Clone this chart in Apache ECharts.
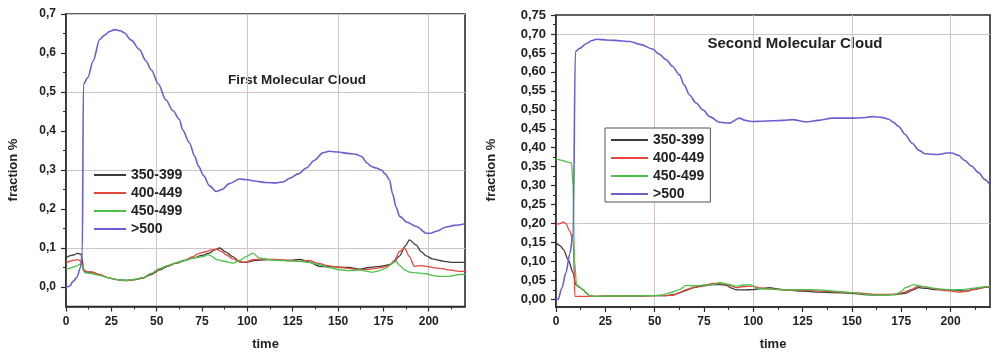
<!DOCTYPE html>
<html><head><meta charset="utf-8">
<script src="https://cdn.jsdelivr.net/npm/echarts@6/dist/echarts.min.js"></script>
<style>html,body{margin:0;padding:0;background:#fff}#c{width:991px;height:357px}</style>
</head><body><div id="c"></div>
<script>
const seriesNames = ['350-399', '400-449', '450-499', '>500'];
const seriesColors = ['#3c3c3c', '#e5463e', '#4cc24c', '#6b60d0'];
const chartTitles = ['First Molecular Cloud', 'Second Molecular Cloud'];
const xTickLabels = [0, 25, 50, 75, 100, 125, 150, 175, 200];
const xMinorTicks = [12.5, 37.5, 62.5, 87.5, 112.5, 137.5, 162.5, 187.5, 212.5];
const c1YTickLabels = [0, 0.1, 0.2, 0.3, 0.4, 0.5, 0.6, 0.7];
const c1YMinorTicks = [0.05, 0.15, 0.25, 0.35, 0.45, 0.55, 0.65];
const c2YTickLabels = [0, 0.05, 0.1, 0.15, 0.2, 0.25, 0.3, 0.35, 0.4, 0.45, 0.5, 0.55, 0.6, 0.65, 0.7, 0.75];
const c2YMinorTicks = [0.025, 0.075, 0.125, 0.175, 0.225, 0.275, 0.325, 0.375, 0.425, 0.475, 0.525, 0.575, 0.625, 0.675, 0.725];

// First Molecular Cloud: [time, fraction]
const c1_350 = [[0,0.075],[2,0.08],[4,0.082],[6.5,0.086],[8.3,0.084],[9,0.07],[9.6,0.044],[11,0.038],[14.6,0.038],[18,0.032],[24,0.023],[28,0.019],[33,0.017],[38,0.019],[42.4,0.023],[47,0.032],[51.6,0.044],[56,0.053],[60.8,0.061],[65,0.067],[70,0.074],[75,0.081],[79,0.087],[82,0.095],[84.7,0.1],[88,0.09],[92,0.078],[95.7,0.065],[99.4,0.063],[103,0.067],[106.7,0.069],[112,0.07],[117.8,0.069],[123,0.068],[128.8,0.071],[134,0.064],[139.8,0.053],[145,0.052],[150.9,0.051],[156,0.05],[161.9,0.046],[167,0.05],[172.9,0.053],[178.4,0.057],[181,0.065],[183.9,0.08],[187,0.105],[189.4,0.121],[193,0.108],[196,0.09],[198.6,0.08],[202,0.072],[206,0.068],[210,0.065],[213.3,0.063],[220,0.063]];
const c1_400 = [[0,0.061],[2,0.066],[3.7,0.068],[6.5,0.07],[8.3,0.066],[9,0.06],[9.6,0.045],[11,0.04],[14.6,0.038],[18,0.032],[24,0.023],[28,0.019],[33,0.016],[38,0.019],[42.4,0.024],[47,0.034],[51.6,0.046],[56,0.054],[60.8,0.062],[65,0.068],[70,0.078],[73.7,0.087],[77.4,0.091],[80,0.095],[83,0.097],[86,0.09],[88.6,0.082],[92,0.072],[96,0.064],[99.4,0.064],[103,0.07],[108,0.072],[113,0.071],[118,0.07],[124,0.068],[129,0.066],[134,0.068],[139.8,0.06],[145,0.054],[150.9,0.05],[156,0.048],[161.9,0.044],[167,0.045],[172.9,0.049],[178.4,0.055],[181,0.068],[183.9,0.091],[186.6,0.1],[189.4,0.078],[192,0.053],[196,0.055],[200,0.052],[203.5,0.049],[208,0.047],[211,0.044],[217,0.04],[220,0.04]];
const c1_450 = [[0,0.046],[2,0.048],[3.7,0.051],[6.5,0.055],[8.3,0.06],[9,0.055],[9.6,0.04],[11,0.036],[14.6,0.034],[18,0.03],[24,0.023],[28,0.019],[33,0.017],[38,0.02],[42.4,0.024],[47,0.035],[51.6,0.047],[56,0.055],[60.8,0.062],[65,0.068],[70,0.074],[75.5,0.078],[78.3,0.083],[80,0.08],[83,0.07],[87,0.066],[92,0.061],[95.7,0.068],[99.4,0.078],[103,0.087],[106.7,0.074],[112,0.07],[117.8,0.068],[123,0.067],[128.8,0.066],[134,0.063],[139.8,0.057],[145,0.05],[150.9,0.044],[156,0.042],[161.9,0.044],[166,0.04],[169.2,0.038],[173,0.042],[176.6,0.049],[179,0.058],[182,0.066],[184,0.055],[186.6,0.044],[189.4,0.038],[194,0.036],[198.6,0.034],[202,0.03],[206,0.027],[211,0.027],[217,0.032],[220,0.032]];
const c1_500 = [[0,0.0],[2,0.002],[4,0.015],[6,0.025],[8,0.05],[9,0.09],[9.6,0.52],[12,0.537],[15,0.58],[18.5,0.634],[21,0.645],[24,0.655],[27,0.66],[30,0.657],[32,0.652],[36,0.633],[40.5,0.609],[44,0.58],[47,0.557],[51,0.52],[55,0.48],[59,0.452],[62.6,0.429],[64.3,0.403],[68,0.37],[71,0.335],[73,0.31],[76,0.285],[79,0.26],[82.8,0.245],[86,0.25],[90,0.265],[95.7,0.277],[100,0.275],[104.9,0.271],[110,0.268],[115.9,0.267],[120,0.27],[123.3,0.279],[128,0.29],[132.5,0.305],[137,0.325],[141.6,0.344],[145.3,0.348],[150,0.346],[156.4,0.342],[160,0.34],[162.8,0.335],[166,0.318],[168.3,0.309],[171,0.305],[173.9,0.3],[176,0.29],[178.4,0.275],[180,0.24],[182,0.205],[184,0.181],[188,0.166],[193.2,0.155],[198.7,0.138],[201,0.138],[204.2,0.143],[209.7,0.154],[214,0.158],[220,0.162]];

// Second Molecular Cloud: [time, fraction]
const c2_350 = [[0,0.15],[2,0.142],[3.7,0.132],[6.2,0.105],[8.7,0.07],[10,0.039],[12,0.032],[13.8,0.025],[15.5,0.016],[17.2,0.009],[20,0.008],[30,0.009],[40,0.009],[50,0.01],[55,0.01],[60,0.013],[63,0.018],[66,0.024],[70,0.031],[74,0.035],[79.5,0.039],[83,0.039],[86,0.038],[89,0.03],[91.3,0.025],[95,0.025],[99.7,0.026],[104,0.029],[108.1,0.031],[112,0.028],[116.5,0.025],[125,0.022],[133.3,0.019],[141,0.018],[150.1,0.016],[156,0.013],[162,0.011],[167,0.012],[172,0.013],[177,0.016],[181,0.025],[183.8,0.031],[188,0.029],[192.3,0.026],[200.7,0.025],[207.4,0.022],[213,0.027],[217.5,0.032],[220,0.033]];
const c2_400 = [[0,0.197],[2,0.2],[3.7,0.204],[5,0.2],[7,0.18],[8.7,0.153],[9.6,0.008],[12,0.008],[15,0.008],[20,0.008],[25,0.009],[30,0.009],[40,0.009],[50,0.01],[55,0.01],[59.3,0.011],[62.6,0.018],[66,0.026],[70,0.032],[72.7,0.035],[76,0.039],[79.5,0.042],[84.5,0.042],[88,0.037],[91.3,0.031],[95,0.034],[99.7,0.035],[104,0.03],[108.1,0.028],[116.5,0.025],[125,0.024],[133.3,0.022],[141,0.02],[150.1,0.018],[156,0.016],[162,0.013],[167,0.013],[172,0.014],[176,0.018],[180,0.026],[183.8,0.035],[187,0.033],[192.3,0.028],[198,0.023],[204,0.019],[208,0.021],[213,0.028],[217.5,0.033],[220,0.034]];
const c2_450 = [[0,0.37],[2,0.368],[4,0.365],[6,0.362],[7.9,0.36],[8.6,0.3],[9.4,0.1],[10.4,0.039],[12,0.032],[13.8,0.026],[15.5,0.017],[17.2,0.009],[20,0.008],[25,0.009],[30,0.009],[35,0.009],[40,0.009],[45,0.01],[50,0.01],[54,0.012],[58,0.018],[62.6,0.026],[66,0.037],[70,0.036],[72.7,0.037],[76,0.038],[79.5,0.039],[82.8,0.044],[87,0.04],[91.3,0.035],[95,0.038],[98,0.039],[103,0.028],[108,0.027],[116.5,0.025],[125,0.026],[133.3,0.025],[141,0.022],[150.1,0.018],[156,0.014],[162,0.011],[167,0.011],[172,0.013],[175,0.02],[177.1,0.031],[181.3,0.039],[184,0.036],[187.2,0.033],[192,0.029],[196,0.027],[200.7,0.025],[206,0.026],[212,0.03],[217.5,0.033],[220,0.034]];
const c2_500 = [[0,0.0],[1,0.0],[3,0.03],[5,0.07],[7,0.12],[8.7,0.175],[9.8,0.653],[12,0.662],[15.5,0.675],[18,0.682],[20.5,0.686],[25.6,0.684],[30,0.683],[37.4,0.68],[43,0.672],[49.1,0.66],[52,0.648],[55.9,0.632],[59,0.615],[62.6,0.592],[65,0.565],[67.7,0.539],[71,0.518],[74.4,0.5],[78,0.482],[82.8,0.467],[87.9,0.465],[92.9,0.478],[96,0.472],[99.7,0.469],[104,0.47],[109.8,0.471],[115,0.472],[119.9,0.474],[126.6,0.468],[133,0.472],[140,0.478],[150.1,0.478],[155,0.479],[160.3,0.482],[165,0.48],[168.7,0.475],[171,0.467],[173.7,0.456],[177,0.435],[180.5,0.412],[184,0.393],[187.2,0.384],[194,0.382],[198,0.386],[200.7,0.386],[204,0.38],[207,0.367],[210.8,0.351],[214,0.335],[217.5,0.316],[220,0.302]];

const c1Data = [c1_350, c1_400, c1_450, c1_500];
const c2Data = [c2_350, c2_400, c2_450, c2_500];

const FONT = "'Liberation Sans', Arial, sans-serif";
const GRIDC = '#cfc5c5';
const AXC = '#2b2b2b';
const T = 'rgba(0,0,0,0)';
const comma = (v, d) => v.toFixed(d).replace('.', ',');

function xAxes(gi) {
  return [{
    gridIndex: gi, type: 'value', min: 0, max: 220, interval: 12.5, position: 'bottom',
    axisLine: { show: true, onZero: false, lineStyle: { color: AXC, width: 1.6 } },
    axisTick: { show: true, customValues: xTickLabels, length: 5, lineStyle: { color: AXC, width: 1.2 } },
    axisLabel: { customValues: xTickLabels, formatter: v => String(v), fontSize: 12, fontWeight: 'bold', color: '#222', fontFamily: FONT, margin: 9 },
    splitLine: { show: true, lineStyle: { color: [GRIDC, T], width: 1 } },
    name: 'time', nameLocation: 'middle', nameGap: 31,
    nameTextStyle: { fontSize: 13, fontWeight: 'bold', color: '#222', fontFamily: FONT }
  }, {
    gridIndex: gi, type: 'value', min: 0, max: 220, interval: 12.5, position: 'bottom',
    axisLine: { show: false, onZero: false },
    axisTick: { show: true, customValues: xMinorTicks, length: 3, lineStyle: { color: AXC, width: 1 } },
    axisLabel: { show: false }, splitLine: { show: false }
  }];
}

function yAxes(gi, min, max, interval, splitColors, labels, minor, digits, fs) {
  return [{
    gridIndex: gi, type: 'value', min: min, max: max, interval: interval, position: 'left',
    axisLine: { show: true, onZero: false, lineStyle: { color: AXC, width: 1.6 } },
    axisTick: { show: true, customValues: labels, length: 5, lineStyle: { color: AXC, width: 1.2 } },
    axisLabel: { customValues: labels, formatter: v => comma(v, digits), fontSize: fs, fontWeight: 'bold', color: '#222', fontFamily: FONT, margin: 10 },
    splitLine: { show: true, lineStyle: { color: splitColors, width: 1 } }
  }, {
    gridIndex: gi, type: 'value', min: min, max: max, interval: interval, position: 'left',
    axisLine: { show: false, onZero: false },
    axisTick: { show: true, customValues: minor, length: 3, lineStyle: { color: AXC, width: 1 } },
    axisLabel: { show: false }, splitLine: { show: false }
  }];
}

const series = [];
[c1Data, c2Data].forEach((set, ci) => {
  set.forEach((d, i) => {
    series.push({
      type: 'line', name: seriesNames[i], data: d,
      xAxisIndex: ci * 2, yAxisIndex: ci * 2,
      symbol: 'none', smooth: 0.3, smoothMonotone: 'x',
      lineStyle: { color: seriesColors[i], width: i === 3 ? 1.6 : 1.3 },
      itemStyle: { color: seriesColors[i] },
      z: 2 + i, animation: false
    });
  });
});

const legendText = { fontSize: 14, fontWeight: 'bold', color: '#222', fontFamily: FONT };
const legendItem = { opacity: 0, color: T, borderWidth: 0 };
const option = {
  animation: false,
  backgroundColor: '#fff',
  grid: [
    { left: 66, top: 14, width: 399, height: 292.5, show: true, borderColor: AXC, borderWidth: 1.6, backgroundColor: T },
    { left: 556, top: 15, width: 434, height: 292, show: true, borderColor: AXC, borderWidth: 1.6, backgroundColor: T }
  ],
  xAxis: [...xAxes(0), ...xAxes(1)],
  yAxis: [
    ...yAxes(0, -0.05, 0.7, 0.05, [T, GRIDC], c1YTickLabels, c1YMinorTicks, 1, 12),
    ...yAxes(1, -0.02, 0.75, 0.005, [T, T, T, T, GRIDC, T, T, T, T, T], c2YTickLabels, c2YMinorTicks, 2, 13)
  ],
  legend: [
    { left: 93, top: 168, orient: 'vertical', itemWidth: 32, itemHeight: 14, itemGap: 4, padding: 0,
      data: seriesNames, textStyle: legendText, itemStyle: legendItem, selectedMode: false },
    { left: 605, top: 128, orient: 'vertical', itemWidth: 37, itemHeight: 14, itemGap: 4, padding: [5, 6, 1, 5],
      borderColor: '#555', borderWidth: 1, backgroundColor: '#fff',
      data: seriesNames, textStyle: legendText, itemStyle: legendItem, selectedMode: false }
  ],
  graphic: [
    { type: 'text', x: 297, y: 80, style: { text: chartTitles[0], fontSize: 13.5, fontWeight: 'bold', fill: '#222', fontFamily: FONT, textAlign: 'center', textVerticalAlign: 'middle' } },
    { type: 'text', x: 795, y: 44, style: { text: chartTitles[1], fontSize: 15, fontWeight: 'bold', fill: '#222', fontFamily: FONT, textAlign: 'center', textVerticalAlign: 'middle' } },
    { type: 'text', x: 13, y: 170, rotation: Math.PI / 2, style: { text: 'fraction %', fontSize: 13, fontWeight: 'bold', fill: '#222', fontFamily: FONT, textAlign: 'center', textVerticalAlign: 'middle' } },
    { type: 'text', x: 491, y: 170, rotation: Math.PI / 2, style: { text: 'fraction %', fontSize: 13, fontWeight: 'bold', fill: '#222', fontFamily: FONT, textAlign: 'center', textVerticalAlign: 'middle' } }
  ],
  series: series
};
const chart = echarts.init(document.getElementById('c'), null, { renderer: 'canvas' });
chart.setOption(option);
</script></body></html>
